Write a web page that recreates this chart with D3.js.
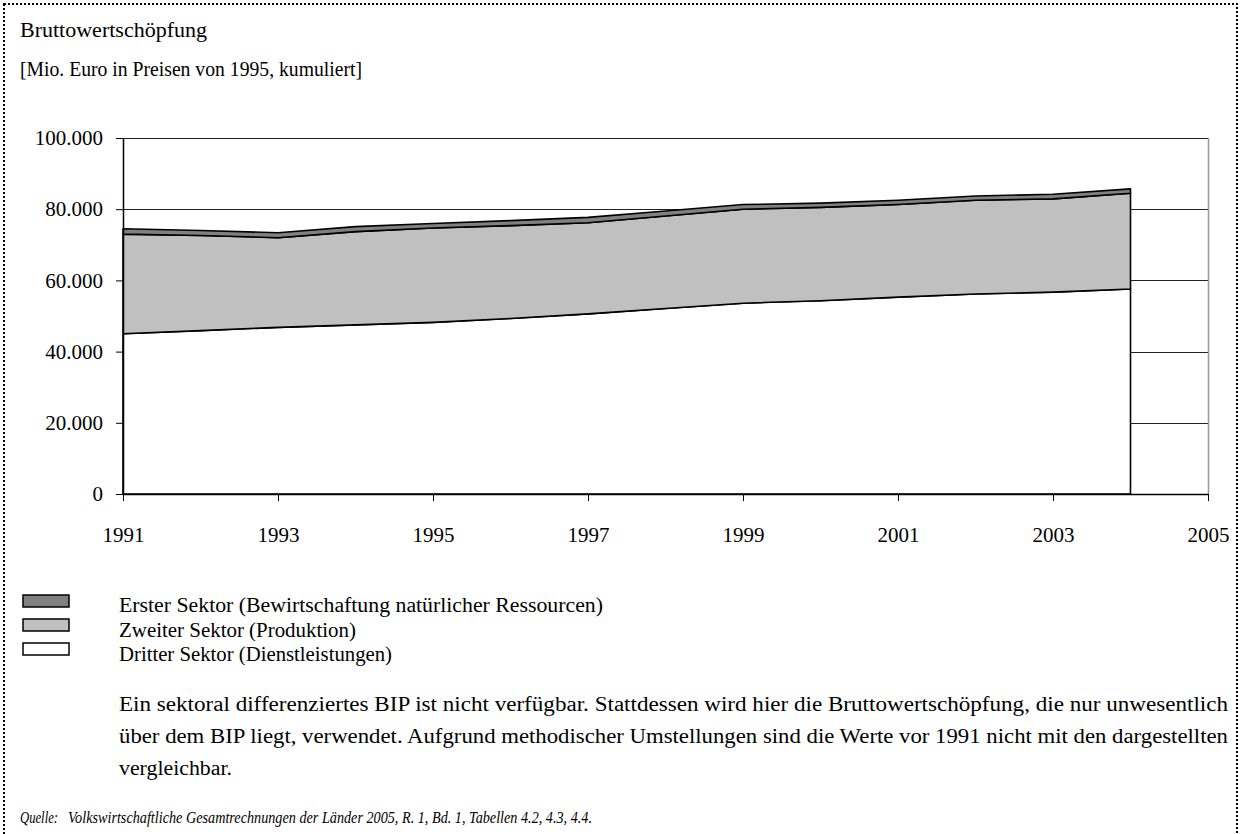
<!DOCTYPE html>
<html>
<head>
<meta charset="utf-8">
<script src="https://cdn.jsdelivr.net/npm/d3@7"></script>
<style>
  body { margin: 0; background: #fff; }
  text { font-family: "Liberation Serif", "DejaVu Serif", serif; fill: #000; }
</style>
</head>
<body>
<script>
// years on the x axis
const years = [1991, 1992, 1993, 1994, 1995, 1996, 1997, 1998, 1999, 2000, 2001, 2002, 2003, 2004];

// Mio. Euro in Preisen von 1995, per sector
const dritterSektor = [45000, 45900, 46800, 47500, 48200, 49300, 50600, 52100, 53600, 54300, 55300, 56200, 56700, 57600];
const zweiterSektor = [28000, 26700, 25200, 26200, 26500, 26100, 25600, 26000, 26400, 26200, 26000, 26300, 26200, 26900];
const ersterSektor  = [1500, 1400, 1400, 1400, 1300, 1400, 1500, 1400, 1300, 1200, 1200, 1200, 1300, 1200];

const xTicks = [1991, 1993, 1995, 1997, 1999, 2001, 2003, 2005];
const yTicks = [0, 20000, 40000, 60000, 80000, 100000];

const legendLabels = [
    'Erster Sektor (Bewirtschaftung natürlicher Ressourcen)',
    'Zweiter Sektor (Produktion)',
    'Dritter Sektor (Dienstleistungen)'
];

const noteLines = [
    'Ein sektoral differenziertes BIP ist nicht verfügbar. Stattdessen wird hier die Bruttowertschöpfung, die nur unwesentlich',
    'über dem BIP liegt, verwendet. Aufgrund methodischer Umstellungen sind die Werte vor 1991 nicht mit den dargestellten',
    'vergleichbar.'
];

drawChart();

function drawChart()
{
    const svgWidth = 1242;
    const svgHeight = 834;

    const svg = d3.select('body')
        .append('svg')
        .attr('width', svgWidth)
        .attr('height', svgHeight);

    // dotted frame round the whole figure
    svg.append('rect')
        .attr('x', 4)
        .attr('y', 4)
        .attr('width', 1233)
        .attr('height', 850)
        .attr('fill', 'none')
        .attr('stroke', '#000')
        .attr('stroke-width', 2)
        .attr('stroke-dasharray', '2,2');

    // helper for text that has to fill a given width (the original face is wider than ours)
    function fitText(parent, str, xPos, yPos, width, size, italic)
    {
        const t = parent.append('text')
            .attr('x', xPos)
            .attr('y', yPos)
            .style('font-size', size + 'px')
            .text(str);
        if (italic) t.style('font-style', 'italic');
        if (width) t.attr('textLength', width).attr('lengthAdjust', 'spacingAndGlyphs');
        return t;
    }

    // headings
    fitText(svg, 'Bruttowertschöpfung', 20, 37, 187, 20);
    fitText(svg, '[Mio. Euro in Preisen von 1995, kumuliert]', 20, 76, 342, 20);

    const plot = { left: 123, right: 1208, top: 138, bottom: 494 };

    const x = d3.scaleLinear()
        .domain([1991, 2005])
        .range([plot.left, plot.right]);

    const y = d3.scaleLinear()
        .domain([0, 100000])
        .range([plot.bottom, plot.top]);

    const de = d3.formatLocale({ decimal: ',', thousands: '.', grouping: [3], currency: ['', ' €'] });
    const fmt = de.format(',d');

    // horizontal grid lines
    svg.append('g')
        .selectAll('line')
        .data(yTicks.slice(1))
        .enter()
        .append('line')
        .attr('x1', plot.left)
        .attr('x2', plot.right)
        .attr('y1', d => Math.round(y(d)) + 0.5)
        .attr('y2', d => Math.round(y(d)) + 0.5)
        .attr('stroke', '#222')
        .attr('stroke-width', 1);

    // right border of the plot area
    svg.append('line')
        .attr('x1', plot.right + 0.5)
        .attr('x2', plot.right + 0.5)
        .attr('y1', plot.top)
        .attr('y2', plot.bottom)
        .attr('stroke', '#999')
        .attr('stroke-width', 1.5);

    // stacked areas
    const rows = years.map((yr, i) => ({
        year: yr,
        dritter: dritterSektor[i],
        zweiter: zweiterSektor[i],
        erster: ersterSektor[i]
    }));

    const keys = ['dritter', 'zweiter', 'erster'];
    const fills = { dritter: '#ffffff', zweiter: '#c0c0c0', erster: '#808080' };

    const series = d3.stack().keys(keys)(rows);

    const area = d3.area()
        .x(d => x(d.data.year))
        .y0(d => y(d[0]))
        .y1(d => y(d[1]));

    svg.append('g')
        .selectAll('path')
        .data(series)
        .enter()
        .append('path')
        .attr('d', area)
        .attr('fill', d => fills[d.key])
        .attr('stroke', '#000')
        .attr('stroke-width', 1.6)
        .attr('stroke-linejoin', 'round');

    // axes
    const yAxis = d3.axisLeft(y)
        .tickValues(yTicks)
        .tickFormat(d => fmt(d))
        .tickSizeInner(7)
        .tickSizeOuter(0)
        .tickPadding(13);

    const yG = svg.append('g')
        .attr('transform', `translate(${plot.left},0)`)
        .call(yAxis);

    const xAxis = d3.axisBottom(x)
        .tickValues(xTicks)
        .tickFormat(d3.format('d'))
        .tickSizeInner(7)
        .tickSizeOuter(0)
        .tickPadding(26);

    const xG = svg.append('g')
        .attr('transform', `translate(0,${plot.bottom})`)
        .call(xAxis);

    [yG, xG].forEach(g =>
    {
        g.select('.domain').attr('stroke', '#000').attr('stroke-width', 1.5);
        g.selectAll('.tick line').attr('stroke', '#000').attr('stroke-width', 1);
        g.selectAll('text')
            .style('font-family', '"Liberation Serif", serif')
            .style('font-size', '21px')
            .attr('fill', '#000');
    });

    // legend
    const legend = svg.append('g');
    const legendFills = ['#808080', '#c0c0c0', '#ffffff'];
    const legendWidths = [484, 237, 273];
    legendLabels.forEach((label, i) =>
    {
        legend.append('rect')
            .attr('x', 23)
            .attr('y', 595 + i * 24)
            .attr('width', 46)
            .attr('height', 12)
            .attr('fill', legendFills[i])
            .attr('stroke', '#000')
            .attr('stroke-width', 1.5);
        fitText(legend, label, 119, 612 + i * 24.5, legendWidths[i], 20);
    });

    // explanatory note, first two lines justified
    const noteWidths = [1109, 1109, 113];
    noteLines.forEach((line, i) =>
    {
        fitText(svg, line, 119, 711 + i * 32, noteWidths[i], 20);
    });

    // source line
    fitText(svg, 'Quelle:', 20, 823, 38, 16, true);
    fitText(svg, 'Volkswirtschaftliche Gesamtrechnungen der Länder 2005, R. 1, Bd. 1, Tabellen 4.2, 4.3, 4.4.', 68, 823, 524, 17.5, true);
}
</script>
</body>
</html>
